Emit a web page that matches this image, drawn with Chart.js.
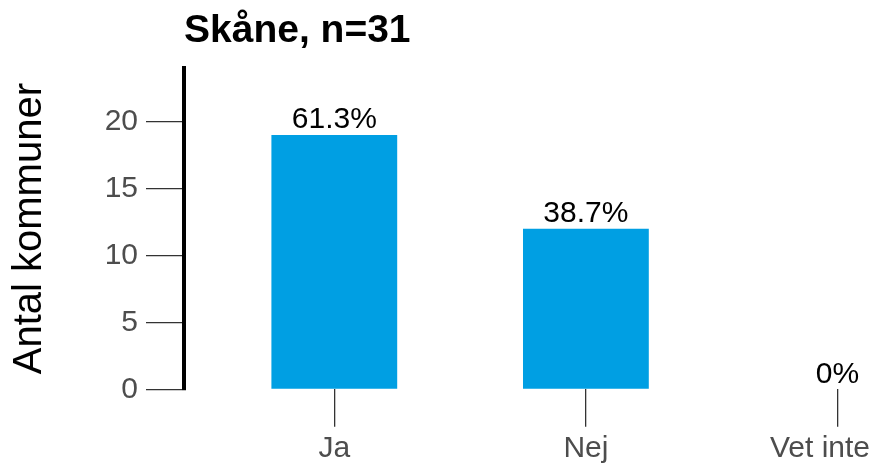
<!DOCTYPE html>
<html>
<head>
<meta charset="utf-8">
<script src="https://cdn.jsdelivr.net/npm/chart.js@4"></script>
<style>
  body { margin: 0; background: #fff; }
  #wrap { width: 876px; height: 465px; position: relative; }
</style>
</head>
<body>
<div id="wrap"><canvas id="chart"></canvas></div>
<script>
// --- Data ---
const categories = ['Ja', 'Nej', 'Vet inte'];
const counts = [19, 12, 0];
const pctLabels = ['61.3%', '38.7%', '0%'];
const yTicks = [0, 5, 10, 15, 20];

const FONT = "'Liberation Sans', Arial, sans-serif";

// Draws the percentages above the bars and the category names under the ticks
const labelPlugin = {
    id: 'labels',
    afterDatasetsDraw(chart) {
        const ctx = chart.ctx;
        const meta = chart.getDatasetMeta(0);
        const xScale = chart.scales.x;
        ctx.save();
        ctx.font = `30px ${FONT}`;
        ctx.textAlign = 'center';
        ctx.textBaseline = 'alphabetic';

        // value labels
        ctx.fillStyle = '#000';
        meta.data.forEach((bar, i) => {
            ctx.fillText(pctLabels[i], bar.x, bar.y - 6.5);
        });

        // category labels (kept inside the canvas on the right)
        ctx.fillStyle = '#4d4d4d';
        categories.forEach((cat, i) => {
            let x = xScale.getPixelForValue(i);
            const w = ctx.measureText(cat).width;
            if (x + w / 2 > chart.width - 6) x = chart.width - 6 - w / 2;
            ctx.fillText(cat, x, xScale.top + 37.4 + 30.5);
        });
        ctx.restore();
    }
};

const ctx = document.getElementById('chart').getContext('2d');

const chart = new Chart(ctx, {
    type: 'bar',
    data: {
        datasets: [{
            data: counts.map((v, i) => ({ x: i, y: v })),
            backgroundColor: '#009fe3',
            borderWidth: 0,
            categoryPercentage: 1,
            barPercentage: 0.5
        }]
    },
    options: {
        responsive: true,
        maintainAspectRatio: false,
        animation: false,
        layout: {
            padding: { left: 0, right: 6, top: 0, bottom: 38.3 }
        },
        plugins: {
            legend: { display: false },
            tooltip: { enabled: false },
            title: {
                display: true,
                text: 'Skåne, n=31',
                align: 'start',
                fullSize: false,
                color: '#000',
                font: { family: FONT, size: 39, weight: 'bold' },
                padding: { top: 8, bottom: 13.2 }
            }
        },
        scales: {
            x: {
                type: 'linear',
                offset: false,
                min: -0.5974,
                max: 2.1292,
                afterBuildTicks: (scale) => {
                    scale.ticks = categories.map((_, i) => ({ value: i }));
                },
                border: { display: false },
                grid: {
                    offset: false,
                    drawOnChartArea: false,
                    drawTicks: true,
                    tickLength: 37.4,
                    color: '#333',
                    lineWidth: 1.3
                },
                ticks: { display: false }
            },
            y: {
                min: 0,
                max: 24,
                afterBuildTicks: (scale) => {
                    scale.ticks = yTicks.map(v => ({ value: v }));
                },
                afterFit: (scale) => { scale.width = 184; },
                border: { display: true, color: '#000', width: 4 },
                grid: {
                    drawOnChartArea: false,
                    drawTicks: true,
                    tickLength: 38,
                    color: '#333',
                    lineWidth: 1.3
                },
                ticks: {
                    color: '#4d4d4d',
                    padding: 8,
                    font: { family: FONT, size: 30 }
                },
                title: {
                    display: true,
                    text: 'Antal kommuner',
                    color: '#000',
                    font: { family: FONT, size: 40 },
                    padding: { top: 6, bottom: 0 }
                }
            }
        }
    },
    plugins: [labelPlugin]
});
</script>
</body>
</html>
